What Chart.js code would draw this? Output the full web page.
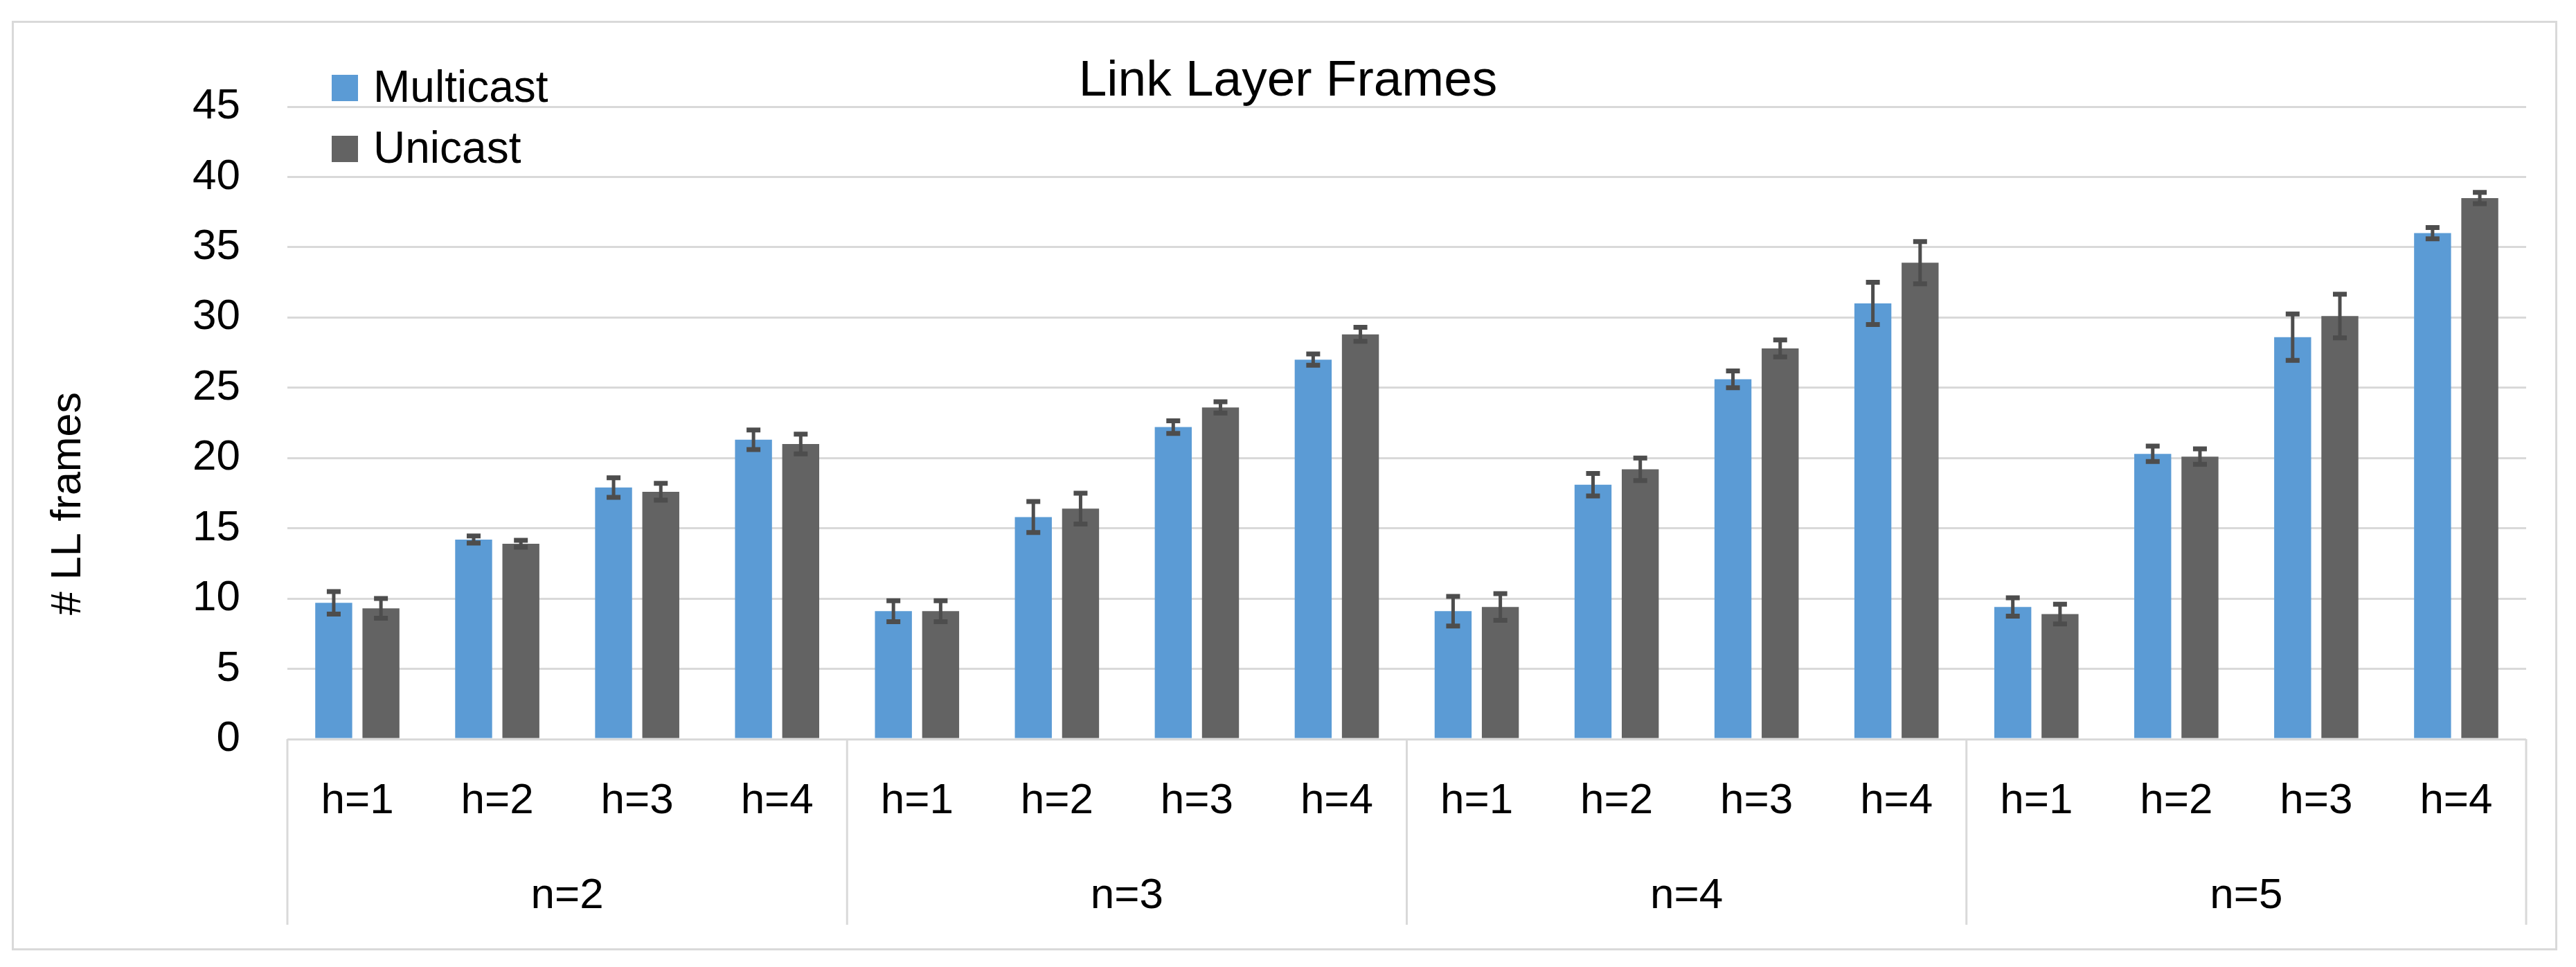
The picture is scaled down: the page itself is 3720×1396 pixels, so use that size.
<!DOCTYPE html>
<html lang="en">
<head>
    <meta charset="UTF-8">
    <title>Link Layer Frames</title>
    <style>
        body {
            margin: 0;
            background: #ffffff;
        }
        #frame {
            position: absolute;
            left: 17px;
            top: 30px;
            width: 3676px;
            height: 1342px;
            border: 3px solid #d9d9d9; /* light outer box like the office chart */
            box-sizing: border-box;
        }
        #chart {
            position: absolute;
            left: 0;
            top: 0;
        }
    </style>
    <script src="https://cdn.jsdelivr.net/npm/chart.js"></script>
</head>
<body>
    <div id="frame"></div>
    <canvas id="chart" width="3720" height="1396"></canvas>
    <script>
        const FONT = '"Liberation Sans", Arial, sans-serif';

        // x categories: hop count inside each group of nodes
        const groups = ['n=2', 'n=3', 'n=4', 'n=5'];
        const hops = ['h=1', 'h=2', 'h=3', 'h=4'];

        // values (n=2 h1..h4, n=3 h1..h4, ...)
        const multicast    = [9.7, 14.2, 17.9, 21.3,  9.1, 15.8, 22.2, 27.0,  9.1, 18.1, 25.6, 31.0,  9.4, 20.3, 28.6, 36.0];
        const multicastErr = [0.8, 0.25, 0.7, 0.7,   0.75, 1.1, 0.45, 0.4,   1.05, 0.8, 0.6, 1.5,   0.65, 0.55, 1.65, 0.4];
        const unicast      = [9.3, 13.9, 17.6, 21.0,  9.1, 16.4, 23.6, 28.8,  9.4, 19.2, 27.8, 33.9,  8.9, 20.1, 30.1, 38.5];
        const unicastErr   = [0.7, 0.25, 0.6, 0.7,   0.75, 1.1, 0.4, 0.5,    0.95, 0.8, 0.6, 1.5,   0.7, 0.55, 1.55, 0.4];

        const yTicks = { min: 0, max: 45, step: 5 };

        // 16 labels, h=1..h=4 repeated for every group
        const labels = [];
        groups.forEach(() => hops.forEach(h => labels.push(h)));

        // error bars (whiskers with caps) on top of each bar
        const errorBars = {
            id: 'errorBars',
            afterDatasetsDraw(chart) {
                const ctx = chart.ctx;
                const y = chart.scales.y;
                chart.data.datasets.forEach((ds, di) => {
                    const meta = chart.getDatasetMeta(di);
                    meta.data.forEach((bar, i) => {
                        const top = y.getPixelForValue(ds.data[i] + ds.errors[i]);
                        const bot = y.getPixelForValue(ds.data[i] - ds.errors[i]);
                        ctx.save();
                        ctx.strokeStyle = '#4d4d4d';
                        ctx.lineWidth = 5;
                        ctx.beginPath();
                        ctx.moveTo(bar.x, top);
                        ctx.lineTo(bar.x, bot);
                        ctx.stroke();
                        ctx.lineWidth = 7;
                        ctx.beginPath();
                        ctx.moveTo(bar.x - 10, top);
                        ctx.lineTo(bar.x + 10, top);
                        ctx.moveTo(bar.x - 10, bot);
                        ctx.lineTo(bar.x + 10, bot);
                        ctx.stroke();
                        ctx.restore();
                    });
                });
            }
        };

        // vertical separators between the n= groups, down through both label rows
        const groupLines = {
            id: 'groupLines',
            afterDraw(chart) {
                const ctx = chart.ctx;
                const x = chart.scales.x;
                const area = chart.chartArea;
                const bottom = chart.scales.x2.bottom - 9;
                const per = hops.length;
                ctx.save();
                ctx.strokeStyle = '#d9d9d9';
                ctx.lineWidth = 3;
                for (let g = 0; g <= groups.length; g++) {
                    let px;
                    if (g === 0) px = area.left;
                    else if (g === groups.length) px = area.right;
                    else px = (x.getPixelForValue(g * per - 1) + x.getPixelForValue(g * per)) / 2;
                    ctx.beginPath();
                    ctx.moveTo(px, area.bottom);
                    ctx.lineTo(px, bottom);
                    ctx.stroke();
                }
                ctx.restore();
            }
        };

        // legend sits inside the top left corner, stacked
        const cornerLegend = {
            id: 'cornerLegend',
            afterDraw(chart) {
                const ctx = chart.ctx;
                const area = chart.chartArea;
                const left = area.left + 64;
                ctx.save();
                ctx.font = '64px ' + FONT;
                ctx.textBaseline = 'middle';
                ctx.textAlign = 'left';
                chart.data.datasets.forEach((ds, i) => {
                    const cy = area.top - 27 + i * 88;
                    ctx.fillStyle = ds.backgroundColor;
                    ctx.fillRect(left, cy - 19, 38, 38);
                    ctx.fillStyle = '#000000';
                    ctx.fillText(ds.label, left + 60, cy + 2);
                });
                ctx.restore();
            }
        };

        // y title, placed a bit lower than the scale middle like the original
        const yTitle = {
            id: 'yTitle',
            afterDraw(chart) {
                const ctx = chart.ctx;
                const area = chart.chartArea;
                ctx.save();
                ctx.translate(99, area.bottom - 340);
                ctx.rotate(-Math.PI / 2);
                ctx.font = '61px ' + FONT;
                ctx.fillStyle = '#000000';
                ctx.textAlign = 'center';
                ctx.textBaseline = 'middle';
                ctx.fillText('# LL frames', 0, 0);
                ctx.restore();
            }
        };

        new Chart(document.getElementById('chart'), {
            type: 'bar',
            data: {
                labels: labels,
                datasets: [{
                    label: 'Multicast',
                    data: multicast,
                    errors: multicastErr,
                    backgroundColor: '#5b9bd5',
                    categoryPercentage: 0.675,
                    barPercentage: 0.783
                }, {
                    label: 'Unicast',
                    data: unicast,
                    errors: unicastErr,
                    backgroundColor: '#636363',
                    categoryPercentage: 0.675,
                    barPercentage: 0.783
                }]
            },
            options: {
                responsive: false,
                animation: false,
                devicePixelRatio: 1,
                layout: {
                    padding: { left: 36, right: 36, top: 0, bottom: 52 }
                },
                plugins: {
                    legend: { display: false },
                    tooltip: { enabled: false },
                    title: {
                        display: true,
                        text: 'Link Layer Frames',
                        color: '#000000',
                        font: { family: FONT, size: 73, weight: 'normal', lineHeight: 1 },
                        padding: { top: 81, bottom: 0 }
                    }
                },
                scales: {
                    x: {
                        weight: 0,
                        grid: { display: false, drawTicks: false },
                        border: { display: false },
                        ticks: {
                            autoSkip: false,
                            maxRotation: 0,
                            padding: 53,
                            color: '#000000',
                            font: { family: FONT, size: 62 }
                        },
                        afterFit: s => { s.height = 127; }
                    },
                    x2: {
                        type: 'category',
                        labels: groups,
                        position: 'bottom',
                        offset: true,
                        weight: 1,
                        grid: { display: false, drawTicks: false },
                        border: { display: false },
                        ticks: {
                            autoSkip: false,
                            maxRotation: 0,
                            padding: 63,
                            color: '#000000',
                            font: { family: FONT, size: 62 }
                        },
                        afterFit: s => { s.height = 150; }
                    },
                    y: {
                        min: yTicks.min,
                        max: yTicks.max,
                        grid: { color: '#d9d9d9', lineWidth: 3, drawTicks: false },
                        border: { display: false },
                        ticks: {
                            stepSize: yTicks.step,
                            padding: 68,
                            color: '#000000',
                            font: { family: FONT, size: 62 }
                        },
                        afterFit: s => { s.width = 379; }
                    },
                    // empty axis on the right, only to keep the plot off the frame
                    yr: {
                        type: 'linear',
                        position: 'right',
                        grid: { display: false, drawTicks: false },
                        border: { display: false },
                        ticks: { display: false },
                        afterFit: s => { s.width = 36; }
                    }
                }
            },
            plugins: [errorBars, groupLines, cornerLegend, yTitle]
        });
    </script>
</body>
</html>
